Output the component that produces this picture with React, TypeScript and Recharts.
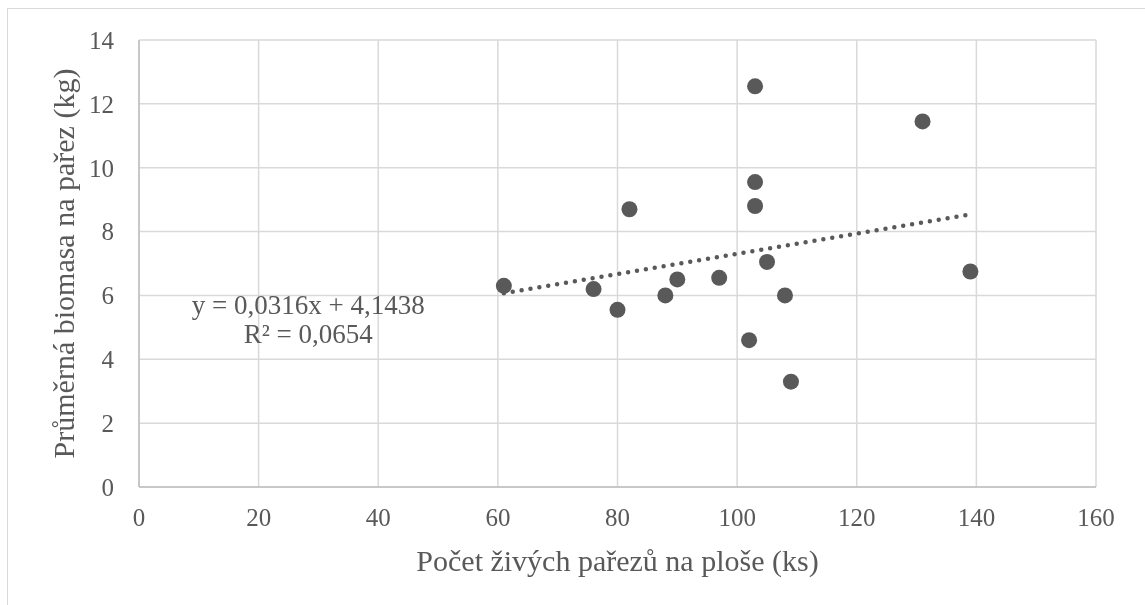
import { ScatterChart, Scatter, XAxis, YAxis, CartesianGrid, ReferenceLine, ReferenceDot } from 'recharts';

// Počet živých pařezů (x) a průměrná biomasa na pařez (y)
const stumpCounts = [61, 76, 80, 82, 88, 90, 97, 102, 103, 103, 103, 105, 108, 109, 131, 139];
const biomassPerStump = [6.3, 6.2, 5.55, 8.7, 6.0, 6.5, 6.55, 4.6, 12.55, 9.55, 8.8, 7.05, 6.0, 3.3, 11.45, 6.75];

const xTicks = [0, 20, 40, 60, 80, 100, 120, 140, 160];
const yTicks = [0, 2, 4, 6, 8, 10, 12, 14];

// lineární spojnice trendu (z rovnice v grafu)
const trendSlope = 0.0316;
const trendIntercept = 4.1438;
const equationLines = ['y = 0,0316x + 4,1438', 'R² = 0,0654'];
const equationAnchor = { x: 28.3, y: 5.42 };

const TEXT = '#595959';
const FONT = '"Liberation Serif", "Times New Roman", serif';

const points = stumpCounts.map((x, i) => ({ x, y: biomassPerStump[i] }));
const xMin = Math.min(...stumpCounts);
const xMax = Math.max(...stumpCounts);
const trendSegment = [
  { x: xMin, y: trendSlope * xMin + trendIntercept },
  { x: xMax, y: trendSlope * xMax + trendIntercept },
];

const Dot = (props: any) => <circle cx={props.cx} cy={props.cy} r={8} fill={TEXT} />;

const EquationText = (props: any) => (
  <g>
    {equationLines.map((line, i) => (
      <text
        key={line}
        x={props.cx}
        y={props.cy + i * 29}
        textAnchor="middle"
        fill={TEXT}
        fontSize={27}
        fontFamily={FONT}
      >
        {line}
      </text>
    ))}
  </g>
);

export default function App() {
  const tick = { fill: TEXT, fontSize: 25, fontFamily: FONT };
  return (
    <>
      <div
        style={{
          position: 'fixed',
          left: 7,
          top: 8,
          width: 1200,
          height: 700,
          border: '1px solid #d9d9d9',
        }}
      />
      <div style={{ position: 'fixed', left: 0, top: 0 }}>
        <ScatterChart width={1145} height={605} margin={{ top: 40, right: 49, bottom: 0, left: 0 }}>
          <CartesianGrid stroke="#d9d9d9" strokeWidth={1.5} />
          <XAxis
            type="number"
            dataKey="x"
            domain={[0, 160]}
            ticks={xTicks}
            height={118}
            axisLine={{ stroke: '#bfbfbf', strokeWidth: 1.5 }}
            tickLine={false}
            tickSize={0}
            tickMargin={21}
            tick={tick}
            label={{
              content: (p: any) => (
                <text
                  x={p.viewBox.x + p.viewBox.width / 2}
                  y={p.viewBox.y + 84}
                  textAnchor="middle"
                  fill={TEXT}
                  fontSize={30}
                  fontFamily={FONT}
                >
                  Počet živých pařezů na ploše (ks)
                </text>
              ),
            }}
          />
          <YAxis
            type="number"
            dataKey="y"
            domain={[0, 14]}
            ticks={yTicks}
            width={139}
            axisLine={{ stroke: '#bfbfbf', strokeWidth: 1.5 }}
            tickLine={false}
            tickSize={0}
            tickMargin={25}
            tick={tick}
            label={{
              content: (p: any) => {
                const cx = 74;
                const cy = p.viewBox.y + p.viewBox.height / 2;
                return (
                  <text
                    x={cx}
                    y={cy}
                    transform={`rotate(-90, ${cx}, ${cy})`}
                    textAnchor="middle"
                    fill={TEXT}
                    fontSize={30}
                    fontFamily={FONT}
                  >
                    Průměrná biomasa na pařez (kg)
                  </text>
                );
              },
            }}
          />
          <ReferenceLine
            segment={trendSegment}
            stroke={TEXT}
            strokeWidth={4.5}
            strokeDasharray="0 9"
            strokeLinecap="round"
          />
          <Scatter data={points} fill={TEXT} shape={Dot} isAnimationActive={false} />
          <ReferenceDot x={equationAnchor.x} y={equationAnchor.y} r={0} shape={EquationText} />
        </ScatterChart>
      </div>
    </>
  );
}
